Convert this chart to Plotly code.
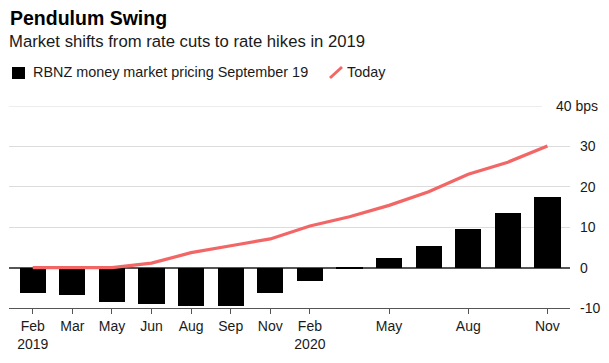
import plotly.graph_objects as go

# ---- data ----
categories = ["Feb 2019", "Mar 2019", "May 2019", "Jun 2019", "Aug 2019", "Sep 2019",
              "Nov 2019", "Feb 2020", "Mar 2020", "May 2020", "Jun 2020", "Aug 2020",
              "Sep 2020", "Nov 2020"]
rbnz_sep19 = [-6.2, -6.9, -8.4, -8.9, -9.4, -9.4, -6.4, -3.2, -0.4, 2.5, 5.4, 9.6, 13.5, 17.4]
today = [0, 0, 0, 1.1, 3.7, 5.4, 7.1, 10.3, 12.6, 15.4, 18.8, 23.1, 26.1, 30.1]

tick_cats = ["Feb 2019", "Mar 2019", "May 2019", "Jun 2019", "Aug 2019", "Sep 2019",
             "Nov 2019", "Feb 2020", "May 2020", "Aug 2020", "Nov 2020"]
tick_text = ["Feb<br>2019", "Mar", "May", "Jun", "Aug", "Sep", "Nov", "Feb<br>2020",
             "May", "Aug", "Nov"]
y_ticks = [-10, 0, 10, 20, 30]
y_top = 40

title = "Pendulum Swing"
subtitle = "Market shifts from rate cuts to rate hikes in 2019"
legend_bar = "RBNZ money market pricing September 19"
legend_line = "Today"

# ---- layout constants (page body has an 8px margin) ----
OFF = 8
W, H = 609 - OFF, 363 - OFF
PL, PR, PT, PB = 9, 570, 106, 308          # plot area in screen pixels
L, R, T, B = PL - OFF, W - (PR - OFF), PT - OFF, H - (PB - OFF)
FONT = "Liberation Sans, Arial, Helvetica, sans-serif"
RED = "#F26666"
TXT = "#1a1a1a"

pw = PR - PL
ph = PB - PT


def px(x):
    return (x - PL) / pw


def py(y):
    return (PB - y) / ph


fig = go.Figure()
fig.add_trace(go.Bar(x=categories, y=rbnz_sep19, marker_color="#000000",
                     marker_line_width=0, width=0.66, showlegend=False,
                     name=legend_bar))
fig.add_trace(go.Scatter(x=categories, y=today, mode="lines",
                         line=dict(color=RED, width=3.2), showlegend=False,
                         name=legend_line))

fig.update_layout(
    width=W, height=H, autosize=False,
    margin=dict(l=L, r=R, t=T, b=B, pad=0),
    paper_bgcolor="white", plot_bgcolor="white",
    font=dict(family=FONT, color=TXT, size=14),
    showlegend=False,
    bargap=0,
    xaxis=dict(type="category", range=[-0.6, 13.57], tickmode="array",
               tickvals=tick_cats, ticktext=tick_text, ticks="outside",
               ticklen=5, tickwidth=1, tickcolor="#555", showline=True,
               linecolor="#555", linewidth=1, showgrid=False, zeroline=False,
               tickfont=dict(size=14, color=TXT), automargin=False,
               fixedrange=True),
    yaxis=dict(side="right", range=[-10, 40], tickmode="array", tickvals=y_ticks,
               ticktext=[str(v) for v in y_ticks], showgrid=True,
               gridcolor="#dcdcdc", gridwidth=1, zeroline=True,
               zerolinecolor="#555", zerolinewidth=1.5, showline=False,
               ticks="", ticklabelstandoff=9, tickfont=dict(size=14, color=TXT),
               automargin=False, fixedrange=True),
)

# top gridline (shortened) and its label
fig.add_shape(type="line", xref="paper", yref="y", x0=0, x1=px(542),
              y0=y_top, y1=y_top, line=dict(color="#dcdcdc", width=1), layer="below")
fig.add_annotation(text=f"{y_top} bps", xref="paper", yref="y", x=px(554), y=y_top,
                   xanchor="left", yanchor="middle", showarrow=False,
                   font=dict(size=14, color=TXT))

# title & subtitle
fig.add_annotation(text=f"<b>{title}</b>", xref="paper", yref="paper",
                   x=px(8), y=py(17.5), xanchor="left", yanchor="middle",
                   showarrow=False, font=dict(size=19.5, color="#000"))
fig.add_annotation(text=subtitle, xref="paper", yref="paper",
                   x=px(7), y=py(42), xanchor="left", yanchor="middle",
                   showarrow=False, font=dict(size=16.7, color=TXT))

# custom legend
fig.add_shape(type="rect", xref="paper", yref="paper", x0=px(12), x1=px(25),
              y0=py(79), y1=py(67), fillcolor="#000", line=dict(width=0))
fig.add_annotation(text=legend_bar, xref="paper", yref="paper",
                   x=px(31), y=py(72), xanchor="left", yanchor="middle",
                   showarrow=False, font=dict(size=14.4, color=TXT))
fig.add_shape(type="line", xref="paper", yref="paper", x0=px(330), x1=px(342),
              y0=py(78), y1=py(67), line=dict(color=RED, width=3))
fig.add_annotation(text=legend_line, xref="paper", yref="paper",
                   x=px(345), y=py(72), xanchor="left", yanchor="middle",
                   showarrow=False, font=dict(size=14.4, color=TXT))

fig.write_html("out.html")
